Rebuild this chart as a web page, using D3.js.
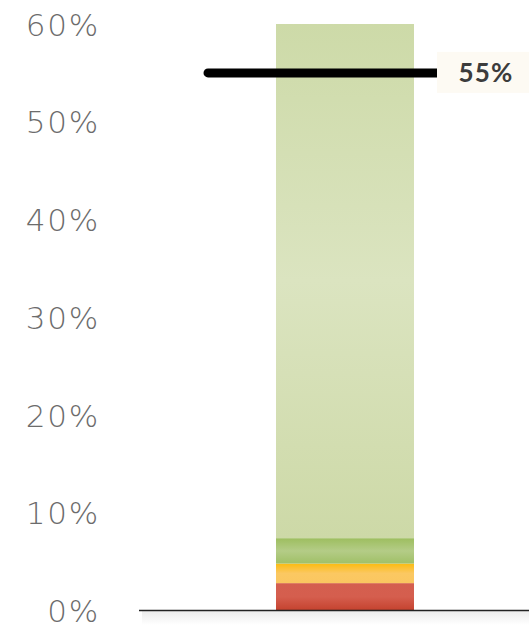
<!DOCTYPE html>
<html><head><meta charset="utf-8">
<script src="https://cdn.jsdelivr.net/npm/d3@7"></script>
<style>html,body{margin:0;padding:0;background:#fff;}</style>
</head><body>
<script>
const categories = ["Red", "Yellow", "Green", "Light green"];
const values = [2.8, 2.0, 2.6, 52.6];
const target = 55;
const targetLabel = "55%";
const ticks = [0, 10, 20, 30, 40, 50, 60];
const palette = [
  ["#d45f4f", "#d55e4e", "#c4422e"],
  ["#fbbb10", "#fbc862", "#fac760"],
  ["#9dbe5f", "#b4cc87", "#a0c067"],
  ["#cddaa8", "#dbe4c0", "#cdd9a7"]
];

const W = 529, H = 629;
const svg = d3.select("body").append("svg").attr("width", W).attr("height", H);
const defs = svg.append("defs");

const y = d3.scaleLinear().domain([0, 60]).range([610.5, 24]);
const barX = 276, barW = 138;

// shadow under baseline
const sg = defs.append("linearGradient").attr("id", "shadow").attr("x1", 0).attr("y1", 0).attr("x2", 0).attr("y2", 1);
sg.append("stop").attr("offset", 0).attr("stop-color", "#ececec");
sg.append("stop").attr("offset", 1).attr("stop-color", "#ffffff");
svg.append("rect").attr("x", 142).attr("y", 611).attr("width", W - 142).attr("height", 14).attr("fill", "url(#shadow)");

// stacked data
let acc = 0;
const stack = values.map((v, i) => { const d = {cat: categories[i], y0: acc, y1: acc + v, i}; acc += v; return d; });

stack.forEach(d => {
  const g = defs.append("linearGradient").attr("id", "g" + d.i).attr("x1", 0).attr("y1", 0).attr("x2", 0).attr("y2", 1);
  const c = palette[d.i];
  g.append("stop").attr("offset", 0).attr("stop-color", c[0]);
  g.append("stop").attr("offset", 0.5).attr("stop-color", c[1]);
  g.append("stop").attr("offset", 1).attr("stop-color", c[2]);
});

svg.selectAll("rect.seg").data(stack).enter().append("rect")
  .attr("class", "seg")
  .attr("x", barX).attr("width", barW)
  .attr("y", d => y(d.y1)).attr("height", d => y(d.y0) - y(d.y1))
  .attr("fill", d => "url(#g" + d.i + ")");

// axis labels
const axis = d3.axisLeft(y).tickValues(ticks).tickFormat(d => d + "%").tickSize(0).tickPadding(0);
const ag = svg.append("g").attr("transform", "translate(100,0)").call(axis);
ag.select(".domain").remove();
ag.selectAll("text")
  .attr("font-family", "'DejaVu Sans', sans-serif").attr("font-weight", 200)
  .attr("font-size", 31).attr("letter-spacing", 1.8).attr("fill", "#6c6c6c").attr("dy", "0.36em");

// baseline
svg.append("line").attr("x1", 139).attr("x2", W).attr("y1", y(0)).attr("y2", y(0))
  .attr("stroke", "#222").attr("stroke-width", 1.3);

// target line
svg.append("line").attr("x1", 208).attr("x2", 440).attr("y1", y(target)).attr("y2", y(target))
  .attr("stroke", "#000").attr("stroke-width", 9).attr("stroke-linecap", "round");
svg.append("rect").attr("x", 437).attr("y", y(target) - 21).attr("width", W - 437).attr("height", 41)
  .attr("fill", "#fdfaf3");
svg.append("text").attr("x", 486).attr("y", y(target)).attr("dy", "0.36em")
  .attr("text-anchor", "middle").attr("font-family", "Lato, sans-serif").attr("font-weight", 700)
  .attr("font-size", 26).attr("letter-spacing", 1.2).attr("fill", "#3c3c3c").text(targetLabel);
</script>
</body></html>
